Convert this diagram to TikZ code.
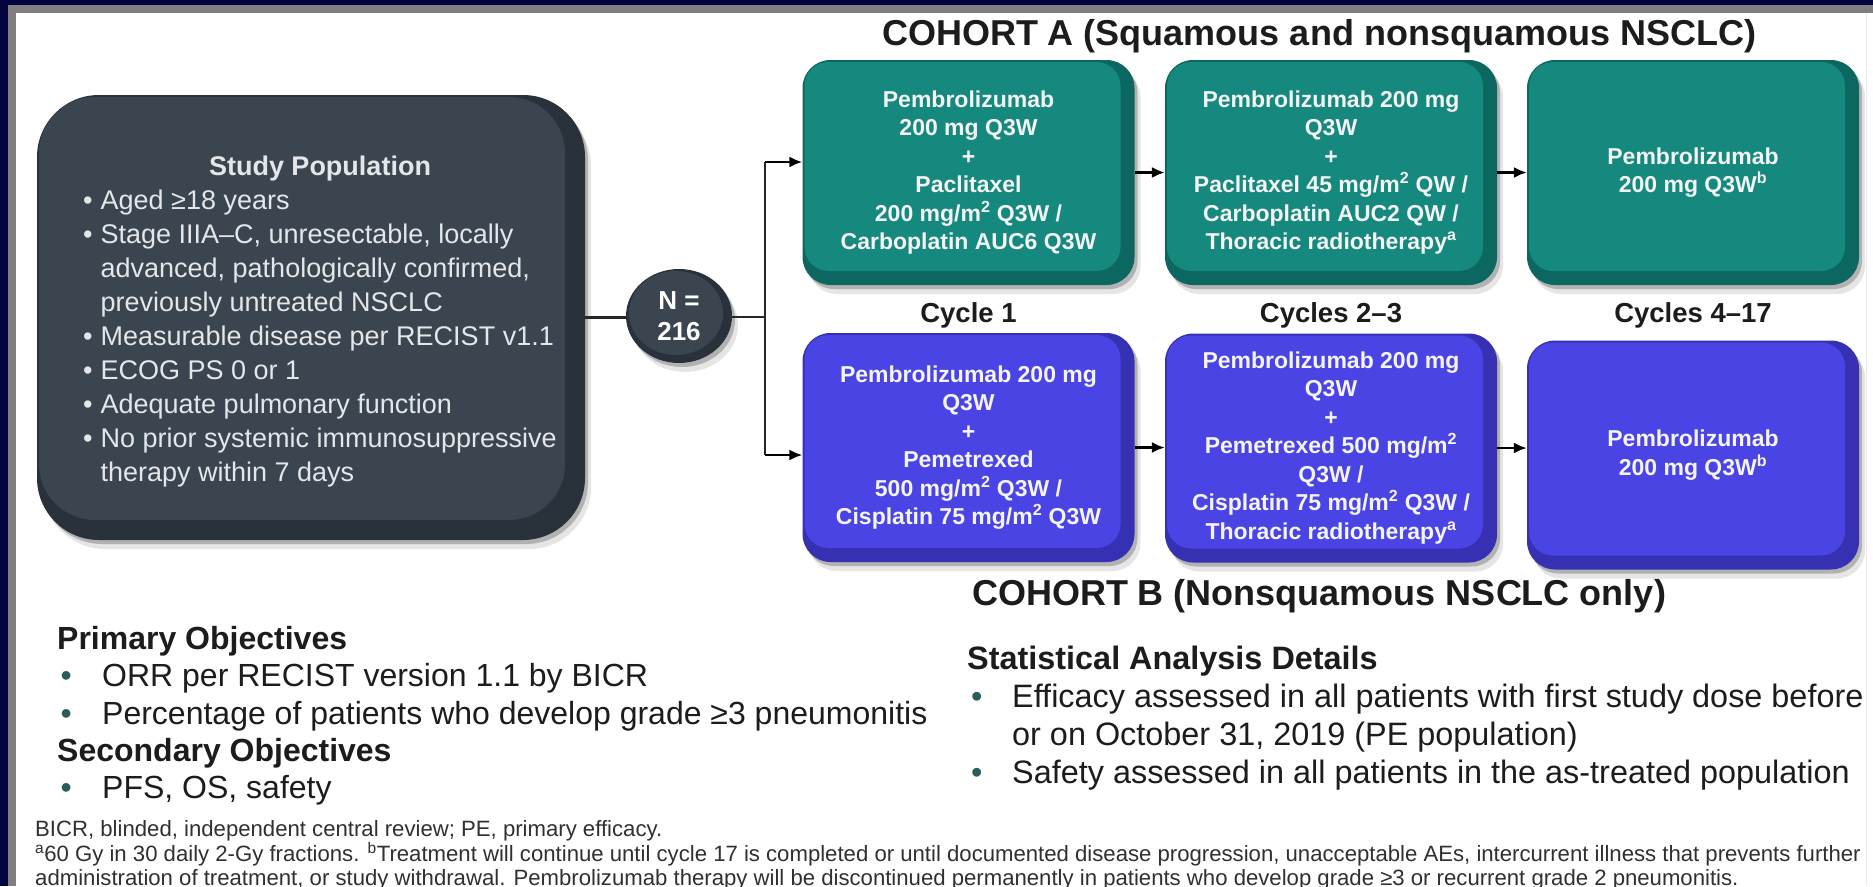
\documentclass[tikz,border=0pt]{standalone}
\usepackage{fontspec}
\setmainfont{Liberation Sans}
\usetikzlibrary{shapes.geometric,shadows,arrows.meta}

\definecolor{navy}{HTML}{03033F}
\definecolor{framegrey}{HTML}{7F7F7F}
\definecolor{slateface}{HTML}{3A4550}
\definecolor{slatedark}{HTML}{29313A}
\definecolor{tealface}{HTML}{16897F}
\definecolor{tealdark}{HTML}{0C6760}
\definecolor{blueface}{HTML}{4B44E4}
\definecolor{bluedark}{HTML}{3631B2}
\definecolor{ink}{HTML}{1C1C1C}
\definecolor{footink}{HTML}{303030}
\definecolor{bulletteal}{HTML}{2A5C5A}
\definecolor{boxtext}{HTML}{F4F4F4}
\definecolor{poptext}{HTML}{E4E6E8}

\newcommand{\boxfont}{\bfseries\fontsize{23}{28.5}\selectfont}
\newcommand{\popfont}{\fontsize{27}{34}\selectfont}
\newcommand{\objfont}{\fontsize{32}{37.2}\selectfont}
\newcommand{\statfont}{\fontsize{32.4}{38}\selectfont}
\newcommand{\footfont}{\fontsize{22.15}{25}\selectfont}
\newcommand{\titlefont}{\bfseries\fontsize{36}{43}\selectfont}
\newcommand{\cyclefont}{\bfseries\fontsize{27.5}{33}\selectfont}
\newcommand{\blt}{{\color{bulletteal}\textbullet}}

\begin{document}
\begin{tikzpicture}[x=1pt, y=-1pt,
  softshadow/.style={
    drop shadow={shadow xshift=3pt, shadow yshift=-4pt, opacity=.22, fill=black},
    drop shadow={shadow xshift=6pt, shadow yshift=-9pt, opacity=.10, fill=black}},
  % bevelled panel: face colour, edge colour, outer radius, inner radius, edge width
  panel/.style n args={5}{rectangle, inner sep=0pt, align=center, fill=#2,
    rounded corners=#3, softshadow,
    path picture={\fill[#1, rounded corners=#4]
      ([shift={(2,2)}]path picture bounding box.north west) rectangle
      ([shift={(-#5,-#5)}]path picture bounding box.south east);}},
  tealbox/.style={panel={tealface}{tealdark}{28pt}{24pt}{14},
    minimum width=332pt, minimum height=225pt, text=boxtext, font=\boxfont},
  bluebox/.style={panel={blueface}{bluedark}{28pt}{24pt}{14},
    minimum width=332pt, minimum height=229pt, text=boxtext, font=\boxfont},
  title/.style={inner sep=0pt, text=ink, font=\titlefont},
  cyclelabel/.style={inner sep=0pt, text=ink, font=\cyclefont},
  conn/.style={draw=black!85, line width=2.2pt},
  flow/.style={draw=black, line width=2.2pt, -{Latex[length=13pt,width=11pt]}},
  textblock/.style={anchor=north west, inner sep=0pt, align=left},
  footline/.style={anchor=base west, inner sep=0pt, text=footink, font=\footfont}
]
\useasboundingbox (0,0) rectangle (1873,886);
\clip (0,0) rectangle (1873,886);

% slide frame
\fill[navy] (0,0) rectangle (1873,886);
\fill[framegrey] (8,5) rectangle (1873,886);
\fill[white] (16,13) rectangle (1873,886);
\draw[black!8, line width=1pt] (1866,13) -- (1866,886);

% study population panel and enrolment count
\node[panel={slateface}{slatedark}{62pt}{56pt}{20},
      minimum width=548pt, minimum height=445pt] (pop) at (311,317.5) {};
\node[anchor=north, inner sep=0pt, text=poptext, font=\popfont] (poptxt) at (320,151) {%
  \begin{tabular}{@{}l@{\hspace{8pt}}l@{}}
  \multicolumn{2}{@{}c@{}}{\bfseries Study Population}\\
  \textbullet & Aged ≥18 years\\
  \textbullet & Stage IIIA–C, unresectable, locally\\
              & advanced, pathologically confirmed,\\
              & previously untreated NSCLC\\
  \textbullet & Measurable disease per RECIST v1.1\\
  \textbullet & ECOG PS 0 or 1\\
  \textbullet & Adequate pulmonary function\\
  \textbullet & No prior systemic immunosuppressive\\
              & therapy within 7 days
  \end{tabular}};

\node[ellipse, fill=slatedark, minimum width=106pt, minimum height=94pt, softshadow,
      inner sep=0pt, align=center, text=white,
      font=\bfseries\fontsize{26}{31.5}\selectfont,
      path picture={\fill[slateface] ([shift={(-3,-3)}]path picture bounding box.center)
        ellipse [x radius=47pt, y radius=42pt];}] (nn) at (679,316) {N =\\216};

% cohort headings
\node[title] (ttlA) at (1319,36) {COHORT A (Squamous and nonsquamous NSCLC)};
\node[title] (ttlB) at (1319,596) {COHORT B (Nonsquamous NSCLC only)};

% cohort A
\node[tealbox] (a1) at (968.5,172.5) {Pembrolizumab\\200 mg Q3W\\+\\Paclitaxel\\
  200 mg/m\textsuperscript{2} Q3W /\\Carboplatin AUC6 Q3W};
\node[tealbox] (a2) at (1331,172.5) {Pembrolizumab 200 mg\\Q3W\\+\\
  Paclitaxel 45 mg/m\textsuperscript{2} QW /\\Carboplatin AUC2 QW /\\
  Thoracic radiotherapy\textsuperscript{a}};
\node[tealbox] (a3) at (1693,172.5) {Pembrolizumab\\200 mg Q3W\textsuperscript{b}};

% cycle labels
\node[cyclelabel] (cyc1) at (968.5,315) {Cycle 1};
\node[cyclelabel] (cyc2) at (1331,315) {Cycles 2–3};
\node[cyclelabel] (cyc3) at (1693,315) {Cycles 4–17};

% cohort B
\node[bluebox] (b1) at (968.5,447.5) {Pembrolizumab 200 mg\\Q3W\\+\\Pemetrexed\\
  500 mg/m\textsuperscript{2} Q3W /\\Cisplatin 75 mg/m\textsuperscript{2} Q3W};
\node[bluebox] (b2) at (1331,448) {Pembrolizumab 200 mg\\Q3W\\+\\
  Pemetrexed 500 mg/m\textsuperscript{2}\\Q3W /\\
  Cisplatin 75 mg/m\textsuperscript{2} Q3W /\\Thoracic radiotherapy\textsuperscript{a}};
\node[bluebox] (b3) at (1693,455) {Pembrolizumab\\200 mg Q3W\textsuperscript{b}};

% connectors
\coordinate (fork) at (765,317);
\coordinate (forkA) at (765,162);
\coordinate (forkB) at (765,455);
\draw[conn] (pop.east) -- (pop.east -| nn.west);
\draw[conn] (nn.east |- fork) -- (fork);
\draw[conn] (forkA) -- (forkB);
\draw[flow] (forkA) -- (forkA -| a1.west);
\draw[flow] (forkB) -- (forkB -| b1.west);
\draw[flow] (a1.east) -- (a2.west);
\draw[flow] (a2.east) -- (a3.west);
\draw[flow] (b1.east) -- (b1.east -| b2.west);
\draw[flow] (b2.east) -- (b2.east -| b3.west);

% objectives
\node[textblock, text=ink, font=\objfont] (obj) at (57,623.5) {%
  \begin{tabular}{@{}l@{}l@{}}
  \multicolumn{2}{@{}l@{}}{\bfseries Primary Objectives}\\
  \makebox[45pt][l]{\hspace{3.5pt}\blt} & ORR per RECIST version 1.1 by BICR\\
  \makebox[45pt][l]{\hspace{3.5pt}\blt} & Percentage of patients who develop grade ≥3 pneumonitis\\
  \multicolumn{2}{@{}l@{}}{\bfseries Secondary Objectives}\\
  \makebox[45pt][l]{\hspace{3.5pt}\blt} & PFS, OS, safety
  \end{tabular}};

% statistical analysis
\node[textblock, text=ink, font=\statfont] (stat) at (967,643) {%
  \begin{tabular}{@{}l@{}l@{}}
  \multicolumn{2}{@{}l@{}}{\bfseries Statistical Analysis Details}\\
  \makebox[45pt][l]{\hspace{4pt}\blt} & Efficacy assessed in all patients with first study dose before\\
   & or on October 31, 2019 (PE population)\\
  \makebox[45pt][l]{\hspace{4pt}\blt} & Safety assessed in all patients in the as-treated population
  \end{tabular}};

% footnotes
\node[footline] (fn1) at (35,836) {BICR, blinded, independent central review; PE, primary efficacy.};
\node[footline] (fn2) at (35,861) {\textsuperscript{a}60 Gy in 30 daily 2-Gy fractions. \textsuperscript{b}Treatment will continue until cycle 17 is completed or until documented disease progression, unacceptable AEs, intercurrent illness that prevents further};
\node[footline] (fn3) at (35,885) {administration of treatment, or study withdrawal. Pembrolizumab therapy will be discontinued permanently in patients who develop grade ≥3 or recurrent grade 2 pneumonitis.};
\end{tikzpicture}
\end{document}
